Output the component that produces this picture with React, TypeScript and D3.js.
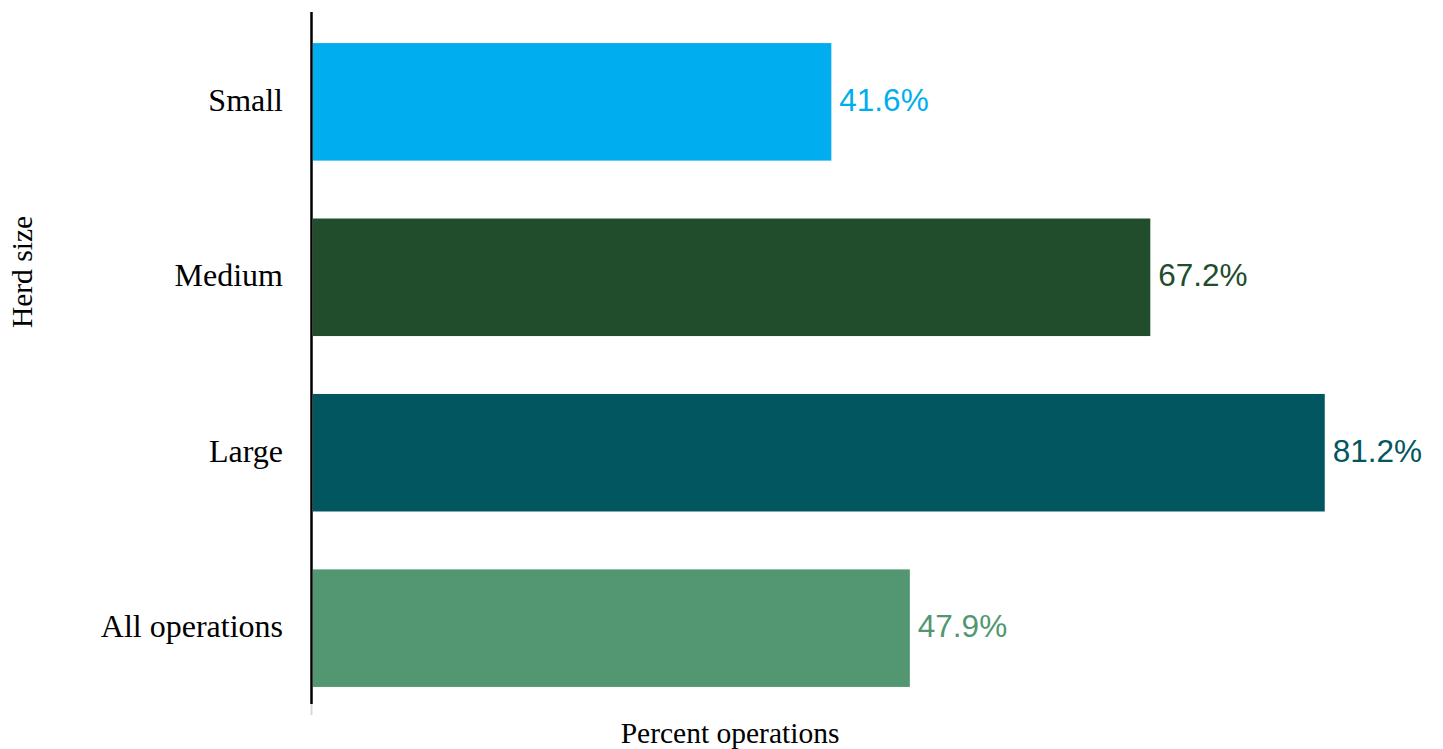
import React from "react";
import * as d3 from "d3";

const categories = ["Small", "Medium", "Large", "All operations"];
const values = [41.6, 67.2, 81.2, 47.9];
const colors = ["#00AEEF", "#214D2D", "#02565F", "#539772"];

const W = 1443;
const H = 749;

export default function App() {
  const x = d3.scaleLinear().domain([0, 100]).range([313, 1559]);
  const y = d3
    .scaleBand<string>()
    .domain(categories)
    .range([15, 715])
    .paddingInner(0.33)
    .paddingOuter(0.16);
  const bw = y.bandwidth();
  return (
    <svg
      width={W}
      height={H}
      style={{ position: "absolute", left: 0, top: 0, background: "#fff" }}
    >
      {categories.map((c, i) => {
        const y0 = y(c) as number;
        return (
          <g key={c}>
            <rect
              x={x(0)}
              y={y0}
              width={x(values[i]) - x(0)}
              height={bw}
              fill={colors[i]}
            />
            <text
              x={x(values[i]) + 8}
              y={y0 + bw / 2 + 9}
              fill={colors[i]}
              fontFamily="Liberation Sans, Arial, sans-serif"
              fontSize={31.5}
            >
              {values[i].toFixed(1)}%
            </text>
            <text
              x={283}
              y={y0 + bw / 2 + 9}
              textAnchor="end"
              fill="#000"
              fontFamily="Liberation Serif, Times New Roman, serif"
              fontSize={32}
            >
              {c}
            </text>
          </g>
        );
      })}
      <line x1={311.5} x2={311.5} y1={12} y2={704} stroke="#000" strokeWidth={2.5} />
      <line x1={311.5} x2={311.5} y1={704} y2={715} stroke="#d9d9d9" strokeWidth={2} />
      <text
        x={730}
        y={743}
        textAnchor="middle"
        fontFamily="Liberation Serif, Times New Roman, serif"
        fontSize={29.5}
        fill="#000"
      >
        Percent operations
      </text>
      <text
        transform="translate(32,272) rotate(-90)"
        textAnchor="middle"
        fontFamily="Liberation Serif, Times New Roman, serif"
        fontSize={29.5}
        fill="#000"
      >
        Herd size
      </text>
    </svg>
  );
}
